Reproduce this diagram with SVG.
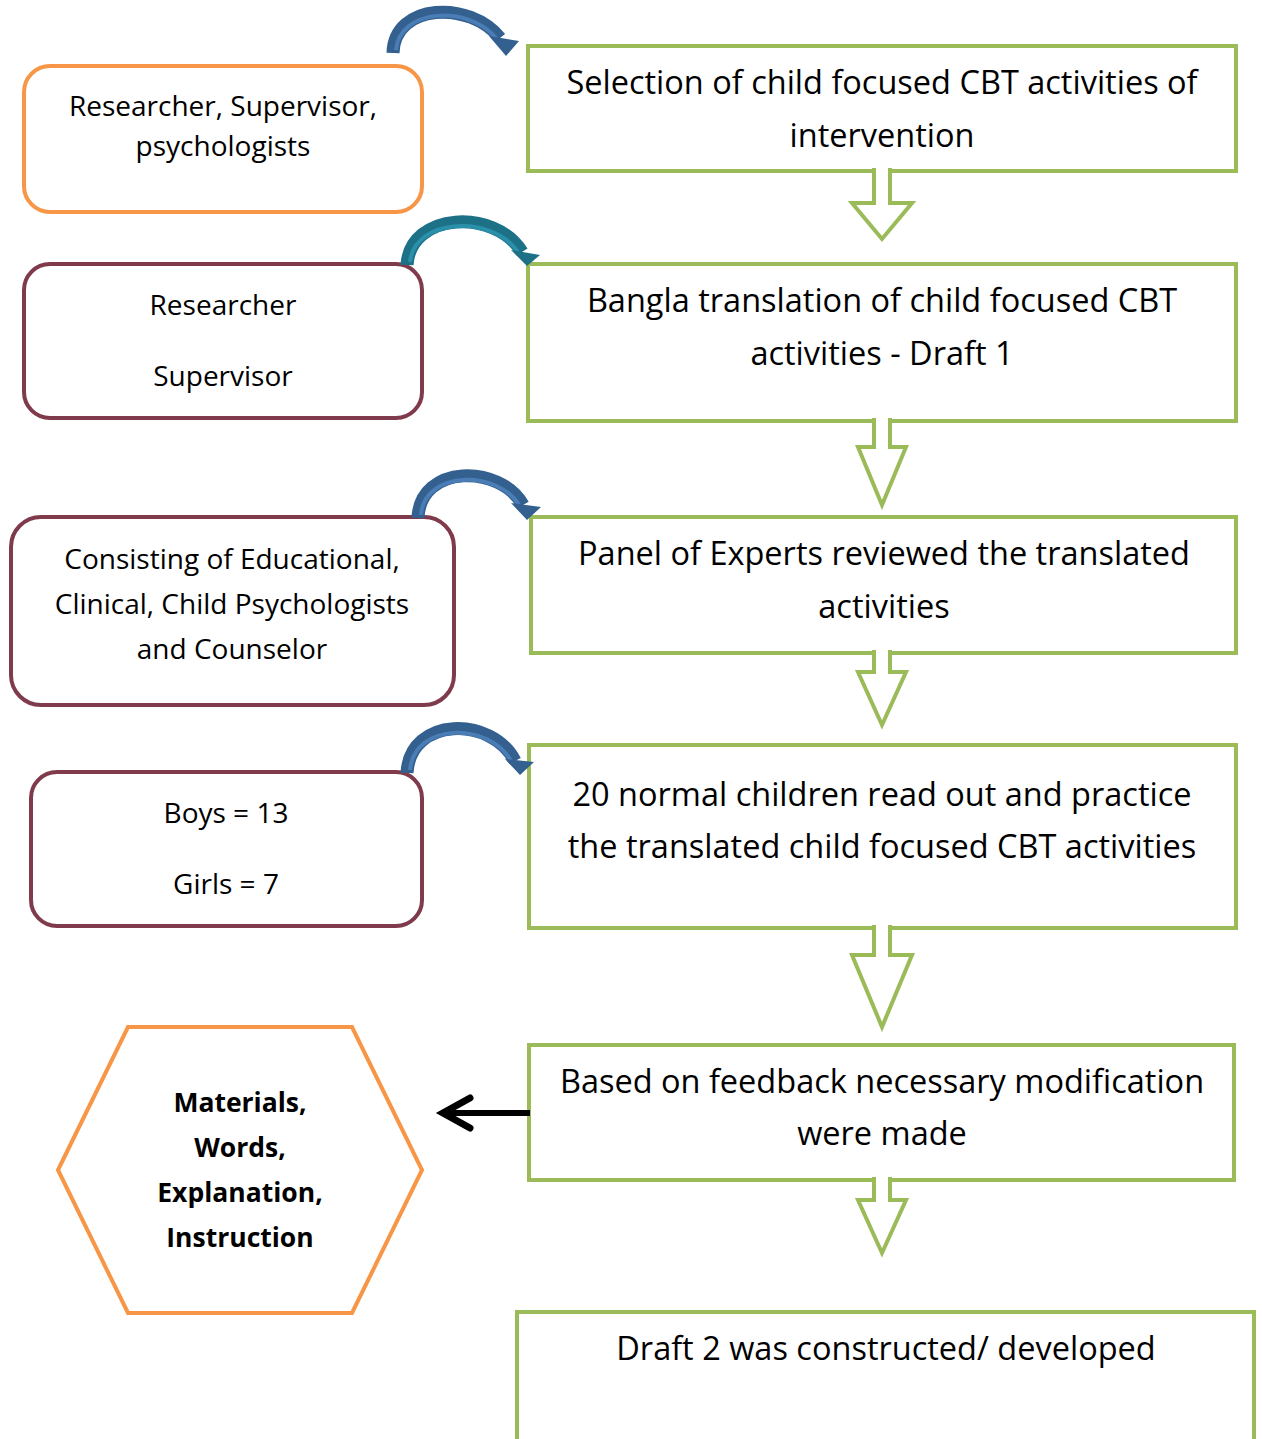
<svg xmlns="http://www.w3.org/2000/svg" width="1262" height="1439" viewBox="0 0 1262 1439">
<style>
.gbox{fill:#fff;stroke:#9BBB59;stroke-width:4}
.hol{fill:#fff;stroke:#9BBB59;stroke-width:4;stroke-linejoin:miter}
.obox{fill:#fff;stroke:#F79646;stroke-width:4}
.mbox{fill:#fff;stroke:#7F3B4C;stroke-width:4}
.rt{font-family:"Open Sans","DejaVu Sans",sans-serif;font-size:32.5px;fill:#000;text-anchor:middle}
.lt{font-family:"Open Sans","DejaVu Sans",sans-serif;font-size:28px;fill:#000;text-anchor:middle}
.bt{font-family:"Open Sans","DejaVu Sans",sans-serif;font-size:26.5px;font-weight:bold;fill:#000;text-anchor:middle}
.cb{fill:none;stroke:#34608F;stroke-width:13}
.cbi{fill:none;stroke:#4A7DB5;stroke-width:4}
.ct{fill:none;stroke:#1C7187;stroke-width:13}
.cti{fill:none;stroke:#2A8FA8;stroke-width:4}
</style>
<rect width="1262" height="1439" fill="#fff"/>

<g id="left1"><rect class="obox" x="24" y="66" width="398" height="146" rx="26"/>
<text class="lt" x="223" y="116">Researcher, Supervisor,</text>
<text class="lt" x="223" y="156">psychologists</text></g>

<g id="left2"><rect class="mbox" x="24" y="264" width="398" height="154" rx="26"/>
<text class="lt" x="223" y="315">Researcher</text>
<text class="lt" x="223" y="386">Supervisor</text></g>

<g id="left3"><rect class="mbox" x="11" y="517" width="443" height="188" rx="30"/>
<text class="lt" x="232" y="569">Consisting of Educational,</text>
<text class="lt" x="232" y="614">Clinical, Child Psychologists</text>
<text class="lt" x="232" y="659">and Counselor</text></g>

<g id="left4"><rect class="mbox" x="31" y="772" width="391" height="154" rx="26"/>
<text class="lt" x="226" y="823">Boys = 13</text>
<text class="lt" x="226" y="894">Girls = 7</text></g>

<g id="hex"><polygon class="obox" points="58,1170 128,1027 352,1027 422,1170 352,1313 128,1313"/>
<text class="bt" x="240" y="1112">Materials,</text>
<text class="bt" x="240" y="1157">Words,</text>
<text class="bt" x="240" y="1202">Explanation,</text>
<text class="bt" x="240" y="1247">Instruction</text></g>

<g id="box1"><rect class="gbox" x="528" y="46" width="708" height="125"/>
<text class="rt" x="882" y="94">Selection of child focused CBT activities of</text>
<text class="rt" x="882" y="147">intervention</text></g>

<g id="box2"><rect class="gbox" x="528" y="264" width="708" height="157"/>
<text class="rt" x="882" y="312">Bangla translation of child focused CBT</text>
<text class="rt" x="882" y="365">activities - Draft 1</text></g>

<g id="box3"><rect class="gbox" x="531" y="517" width="705" height="136"/>
<text class="rt" x="884" y="565">Panel of Experts reviewed the translated</text>
<text class="rt" x="884" y="618">activities</text></g>

<g id="box4"><rect class="gbox" x="529" y="745" width="707" height="183"/>
<text class="rt" x="882" y="806">20 normal children read out and practice</text>
<text class="rt" x="882" y="858">the translated child focused CBT activities</text></g>

<g id="box5"><rect class="gbox" x="529" y="1045" width="705" height="135"/>
<text class="rt" x="882" y="1093">Based on feedback necessary modification</text>
<text class="rt" x="882" y="1145">were made</text></g>

<g id="box6"><rect class="gbox" x="517" y="1312" width="737" height="160"/>
<text class="rt" x="886" y="1360">Draft 2 was constructed/ developed</text></g>

<g id="connectors">
<polyline class="hol" points="874,168 874,203 852,203 882,239 912,203 890,203 890,168"/>
<polyline class="hol" points="874,418 874,447 858,447 882,505 906,447 890,447 890,418"/>
<polyline class="hol" points="874,650 874,672 858,672 882,725 906,672 890,672 890,650"/>
<polyline class="hol" points="874,925 874,955 852,955 882,1027 912,955 890,955 890,925"/>
<polyline class="hol" points="874,1177 874,1200 858,1200 882,1253 906,1200 890,1200 890,1177"/>

<path class="cb" d="M393 53 C 394 3, 470 0, 500 38"/>
<path class="cbi" d="M396 50 C 399 9, 468 4, 496 38"/>
<polygon points="489,36 519,41 506,56" fill="#34608F"/>

<path class="ct" d="M407 265 C 410 212, 495 208, 522 252"/>
<path class="cti" d="M410 262 C 414 218, 492 214, 518 252"/>
<polygon points="511,250 540,255 527,266" fill="#1C7187"/>

<path class="cb" d="M418 518 C 420 464, 500 464, 523 505"/>
<path class="cbi" d="M421 515 C 424 470, 498 470, 519 505"/>
<polygon points="511,503 541,507 527,520" fill="#34608F"/>

<path class="cb" d="M407 773 C 410 716, 492 716, 515 761"/>
<path class="cbi" d="M410 770 C 414 722, 490 722, 511 761"/>
<polygon points="505,759 534,762 520,775" fill="#34608F"/>

<line x1="530" y1="1113" x2="446" y2="1113" stroke="#000" stroke-width="6"/>
<polyline points="470,1098 443,1113 470,1128" fill="none" stroke="#000" stroke-width="7" stroke-linecap="round" stroke-linejoin="miter"/>
</g>
</svg>
